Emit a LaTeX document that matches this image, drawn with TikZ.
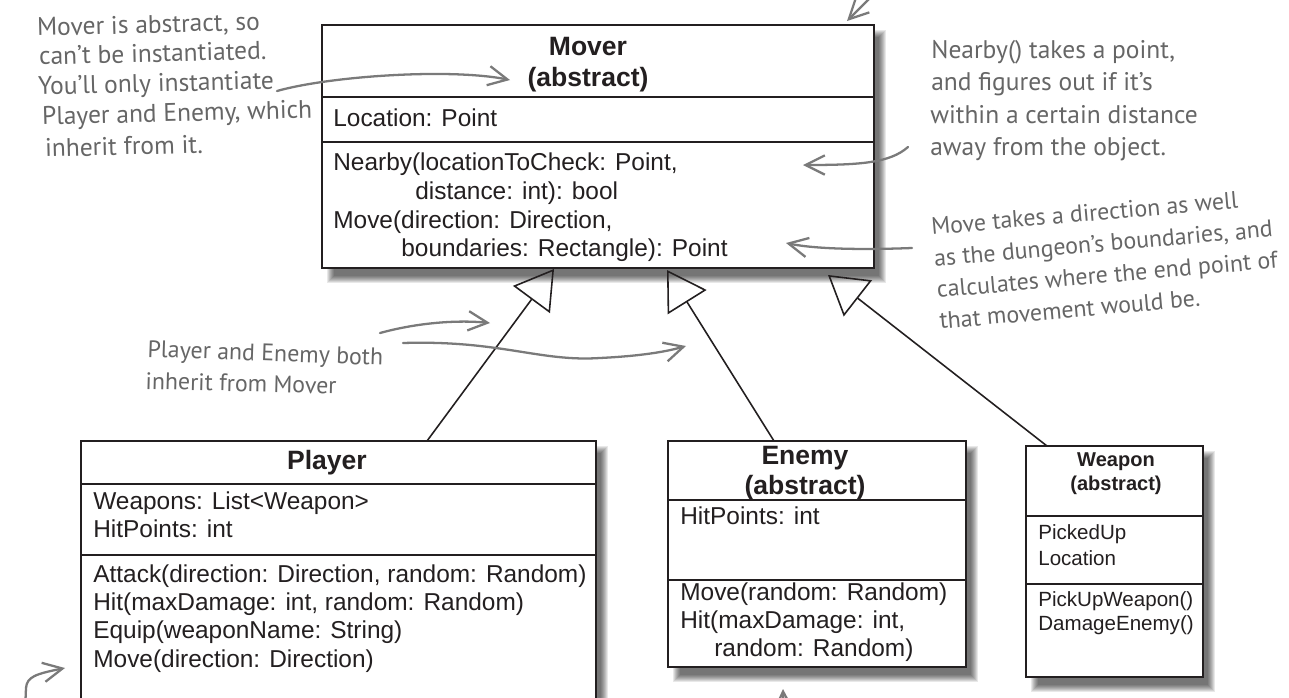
\documentclass[tikz,border=0pt]{standalone}
\usepackage{fontspec}
\setmainfont{Liberation Sans}
\newfontfamily\umlfont{Liberation Sans}
\newfontfamily\notefont{PT Sans}
\usetikzlibrary{arrows.meta,calc,backgrounds}
\definecolor{ink}{HTML}{231F20}
\definecolor{notegray}{HTML}{666666}
\definecolor{arrowgray}{HTML}{7A7A7A}
\begin{document}
\begin{tikzpicture}[x=0.02cm,y=-0.02cm,
 umlbox/.style={draw=ink, line width=0.8pt, fill=white, inner sep=0pt, outer sep=0pt, anchor=north west},
 divider/.style={draw=ink, line width=0.8pt},
 body/.style={anchor=base west, inner sep=0pt, text=ink, font=\umlfont\fontsize{13.9}{16}\selectfont},
 small/.style={anchor=base west, inner sep=0pt, text=ink, font=\umlfont\fontsize{11.7}{14}\selectfont},
 title/.style={anchor=base, inner sep=0pt, text=ink, font=\umlfont\bfseries\fontsize{15.1}{18}\selectfont},
 smalltitle/.style={anchor=base, inner sep=0pt, text=ink, font=\umlfont\bfseries\fontsize{11.4}{14}\selectfont},
 note/.style={anchor=base west, inner sep=0pt, text=notegray, font=\notefont\fontsize{14.5}{17}\selectfont},
 smallnote/.style={note, font=\notefont\fontsize{13.6}{17.9}\selectfont},
 notearrow/.style={draw=arrowgray, line width=1.3pt, line cap=round, -{Straight Barb[length=11pt,width=11pt]}},
 inherit/.style={draw=ink, line width=0.9pt, -{Triangle[open, length=21.6pt, width=26pt]}}
]
\useasboundingbox (0,0) rectangle (1289,697);
\begin{scope}[on background layer]
 \fill[white] (0,0) rectangle (1289,697);
\end{scope}
\clip (0,0) rectangle (1289,697);

% ---------- boxes ----------
\node[umlbox, minimum width=11.04cm, minimum height=4.86cm] (mover) at (322,25) {};
\node[umlbox, minimum width=10.30cm, minimum height=5.78cm] (player) at (81,441) {};
\node[umlbox, minimum width=5.96cm, minimum height=4.52cm] (enemy) at (668,441) {};
\node[umlbox, minimum width=3.54cm, minimum height=4.62cm] (weapon) at (1026,446) {};

\begin{scope}[on background layer]
 \foreach \n in {mover,player,enemy,weapon}{
  \foreach \k in {0,...,7}{
   \fill[black,opacity=0.09] ($(\n.north west)+(5+\k,5+\k)$) rectangle ($(\n.south east)+(12-\k,15-\k)$);
  }
 }
\end{scope}

% dividers
\draw[divider] (mover.north west |- 0,97) -- (mover.north east |- 0,97);
\draw[divider] (mover.north west |- 0,142) -- (mover.north east |- 0,142);
\draw[divider] (player.north west |- 0,484) -- (player.north east |- 0,484);
\draw[divider] (player.north west |- 0,555) -- (player.north east |- 0,555);
\draw[divider] (enemy.north west |- 0,500) -- (enemy.north east |- 0,500);
\draw[divider] (enemy.north west |- 0,580) -- (enemy.north east |- 0,580);
\draw[divider] (weapon.north west |- 0,516) -- (weapon.north east |- 0,516);
\draw[divider] (weapon.north west |- 0,584) -- (weapon.north east |- 0,584);

% Mover text
\node[title] (moverT1) at (588,55) {Mover};
\node[title] (moverT2) at (588,86) {(abstract)};
\node[body] (moverA) at (333,126) {Location: Point};
\node[body] (moverM1) at (333,170) {Nearby(locationToCheck: Point,};
\node[body] (moverM2) at (415,199) {distance: int): bool};
\node[body] (moverM3) at (333,228) {Move(direction: Direction,};
\node[body] (moverM4) at (401,256) {boundaries: Rectangle): Point};

% Player text
\node[title] (playerT) at (327,469) {Player};
\node[body] (playerA1) at (93,509) {Weapons: List<Weapon>};
\node[body] (playerA2) at (93,537) {HitPoints: int};
\node[body] (playerM1) at (93,582) {Attack(direction: Direction, random: Random)};
\node[body] (playerM2) at (93,610) {Hit(maxDamage: int, random: Random)};
\node[body] (playerM3) at (93,638) {Equip(weaponName: String)};
\node[body] (playerM4) at (93,667) {Move(direction: Direction)};

% Enemy text
\node[title] (enemyT1) at (805,464) {Enemy};
\node[title] (enemyT2) at (805,494) {(abstract)};
\node[body] (enemyA) at (680,524) {HitPoints: int};
\node[body] (enemyM1) at (680,600) {Move(random: Random)};
\node[body] (enemyM2) at (680,628) {Hit(maxDamage: int,};
\node[body] (enemyM3) at (714,656) {random: Random)};

% Weapon text
\node[smalltitle] (weaponT1) at (1116,466) {Weapon};
\node[smalltitle] (weaponT2) at (1116,490) {(abstract)};
\node[small] (weaponA1) at (1038,539) {PickedUp};
\node[small] (weaponA2) at (1038,565) {Location};
\node[small] (weaponM1) at (1038,606) {PickUpWeapon()};
\node[small] (weaponM2) at (1038,630) {DamageEnemy()};

% inheritance
\coordinate (tipP) at (554,269);
\coordinate (tipE) at (667,270);
\coordinate (tipW) at (828,275);
\draw[inherit] (player.north west -| 427,0) -- (tipP);
\draw[inherit] (enemy.north west -| 774,0) -- (tipE);
\draw[inherit] (weapon.north west -| 1047,0) -- (tipW);

% notes
\node[note, rotate=1.5] (n1a) at (37,36) {Mover is abstract, so};
\node[note, rotate=1.5] (n1b) at (39,65) {can’t be instantiated.};
\node[note, rotate=1.5] (n1c) at (38,95) {You’ll only instantiate};
\node[note, rotate=1.5] (n1d) at (42,125) {Player and Enemy, which};
\node[note, rotate=1.5] (n1e) at (45,157) {inherit from it.};

\node[note] (n2a) at (931,58) {Nearby() takes a point,};
\node[note] (n2b) at (931,90) {and figures out if it’s};
\node[note] (n2c) at (930,123) {within a certain distance};
\node[note] (n2d) at (930,155) {away from the object.};

\node[smallnote, rotate=5, align=left] (n3) at (940,329) {Move takes a direction as well\\as the dungeon’s boundaries, and\\calculates where the end point of\\that movement would be.};

\node[smallnote, rotate=-2] (n4a) at (147,357) {Player and Enemy both};
\node[smallnote, rotate=-1.5] (n4b) at (145,389) {inherit from Mover};

% note arrows
\coordinate (a1s) at (277,91); \coordinate (a1e) at (510,80);
\draw[notearrow] (a1s) .. controls (330,76) and (450,68) .. (a1e);
\coordinate (a2s) at (908,147); \coordinate (a2e) at (803,165);
\draw[notearrow] (a2s) .. controls (890,163) and (860,165) .. (a2e);
\coordinate (a3s) at (912,248); \coordinate (a3e) at (786,243);
\draw[notearrow] (a3s) .. controls (860,250) and (815,249) .. (a3e);
\coordinate (a4s) at (380,333); \coordinate (a4e) at (490,323);
\draw[notearrow] (a4s) .. controls (420,322) and (460,320) .. (a4e);
\coordinate (a5s) at (403,343); \coordinate (a5m) at (600,358); \coordinate (a5e) at (686,346);
\draw[notearrow] (a5s) .. controls (500,340) and (540,362) .. (a5m) .. controls (640,356) and (665,352) .. (a5e);
\coordinate (a6s) at (25,712); \coordinate (a6m) at (26,688); \coordinate (a6e) at (65,668);
\draw[notearrow] (a6s) -- (a6m) .. controls (27,677) and (35,674) .. (a6e);
\coordinate (a7s) at (784,725); \coordinate (a7e) at (783,689);
\draw[notearrow] (a7s) -- (a7e);
\coordinate (a8s) at (880,-12); \coordinate (a8e) at (847,21);
\draw[notearrow] (a8s) -- (a8e);
\end{tikzpicture}
\end{document}
